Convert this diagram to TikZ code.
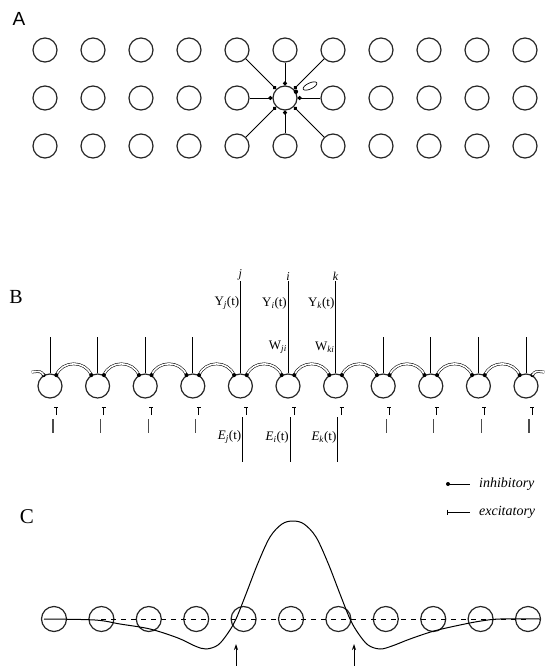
\documentclass[tikz,border=0pt]{standalone}
\usepackage{fontspec}
\setmainfont{Liberation Serif}
\newfontfamily\labsans{Liberation Sans}
\usetikzlibrary{arrows.meta}
\begin{document}
\begin{tikzpicture}[x=1pt,y=-1pt,
  cell/.style={circle, draw=black!85, line width=1.2pt, minimum size=24pt, inner sep=0pt},
  cellc/.style={circle, draw=black!85, line width=1.2pt, minimum size=25pt, inner sep=0pt},
  inhib/.style={line width=0.8pt, -{Circle[length=4pt]}},
  dbl/.style={double, double distance=1.6pt, line width=0.55pt},
  lbl/.style={font=\fontsize{13}{13}\selectfont, inner sep=1pt},
  panel/.style={font=\fontsize{20}{20}\selectfont, inner sep=0pt},
  leg/.style={font=\fontsize{14}{14}\selectfont\itshape, anchor=west, inner sep=0pt},
  vline/.style={line width=0.8pt},
]
\useasboundingbox (0,0) rectangle (544,666);

% ---------------- Panel A ----------------
\node[panel, font=\labsans\fontsize{19}{19}\selectfont] (labA) at (19,19) {A};
\foreach \r in {0,1,2}
  \foreach \c in {0,...,10}
    \node[cell] (a-\r-\c) at ({45+48*\c},{50+48*\r}) {};
\foreach \r/\c in {0/4,0/5,0/6,1/4,1/6,2/4,2/5,2/6}
  \draw[inhib] (a-\r-\c) -- (a-1-5);
\draw[line width=0.7pt, rotate around={25:(310,86)}] (310,86) ellipse [x radius=7.5, y radius=3];
\fill (a-1-5.30) circle (2.2);

% ---------------- Panel B ----------------
\node[panel] (labB) at (16,297) {B};
\foreach \c in {0,...,10}
  \node[cell] (b-\c) at ({50+47.6*\c},386) {};
% vertical output lines
\foreach \c in {0,1,2,3,7,8,9,10}
  \draw[vline] (b-\c.north) -- ++(0,-36);
\foreach \c/\n in {4/j,5/i,6/k} {
  \draw[vline] (b-\c.north) -- ++(0,-92) coordinate (top-\c);
  \node[font=\fontsize{12}{12}\selectfont\itshape, anchor=south, inner sep=1pt] (idx-\c) at (top-\c) {\n};
}
\node[lbl, anchor=east] (yj) at ({50+47.6*4},303) {Y\textsubscript{\textit{j}}(t)};
\node[lbl, anchor=east] (yi) at ({50+47.6*5},303) {Y\textsubscript{\textit{i}}(t)};
\node[lbl, anchor=east] (yk) at ({50+47.6*6},303) {Y\textsubscript{\textit{k}}(t)};
\node[lbl, anchor=east] (wji) at ({50+47.6*5},347) {W\textsubscript{\textit{ji}}};
\node[lbl, anchor=east] (wki) at ({50+47.6*6},347) {W\textsubscript{\textit{ki}}};
% lateral double arcs
\foreach \c [evaluate=\c as \d using int(\c+1)] in {0,...,9}
  \draw[dbl] (b-\c.60) .. controls +(6,-15) and +(-6,-15) .. (b-\d.120);
\foreach \c in {0,...,10} {
  \fill (b-\c.60) circle (2);
  \fill (b-\c.120) circle (2);
}
\draw[dbl] (b-0.120) .. controls +(-3,-4) .. +(-12,-3);
\draw[dbl] (b-10.60) .. controls +(3,-4) .. +(12,-3);
% inputs below
\foreach \c in {0,...,10} {
  \draw[line width=0.7pt] ([shift={(6,29)}]b-\c.center) -- ++(0,-8);
  \draw[line width=0.7pt] ([shift={(4,21)}]b-\c.center) -- ++(4,0);
}
\foreach \c in {0,1,2,3,7,8,9,10}
  \draw[line width=1.2pt, black!70] ([shift={(3,33)}]b-\c.center) -- ++(0,14);
\foreach \c in {4,5,6}
  \draw[vline] ([shift={(2,31)}]b-\c.center) -- ++(0,45);
\node[lbl, anchor=east] (ej) at ({52+47.6*4},437) {\textit{E}\textsubscript{\textit{j}}(t)};
\node[lbl, anchor=east] (ei) at ({52+47.6*5},437) {\textit{E}\textsubscript{\textit{i}}(t)};
\node[lbl, anchor=east] (ek) at ({52+47.6*6},437) {\textit{E}\textsubscript{\textit{k}}(t)};

% legend
\coordinate (li0) at (448,484);
\coordinate (li1) at (470,484);
\draw[line width=0.8pt] (li0) -- (li1);
\fill (li0) circle (2);
\node[leg] (linh) at (479,484) {inhibitory};
\coordinate (le0) at (447,512);
\coordinate (le1) at (470,512);
\draw[line width=0.8pt] (le0) -- (le1);
\draw[line width=0.6pt] (447,509.5) -- (447,514.5);
\node[leg] (lexc) at (479,512) {excitatory};

% ---------------- Panel C ----------------
\node[panel, font=\fontsize{21}{21}\selectfont] (labC) at (27,517) {C};
\foreach \c in {0,...,10}
  \node[cellc] (c-\c) at ({54+47.4*\c},619) {};
\draw[line width=0.9pt, dash pattern=on 5pt off 5pt] (c-1.center) -- (c-10.center);
\draw[line width=1pt] plot[smooth, tension=0.55] coordinates {
 (44,619) (95,620) (120,624) (150,629) (178,638) (195,646) (206,649) (218,645)
 (228,633) (236,619) (246,594) (258,563) (270,537) (282,524) (293,521) (304,524)
 (316,537) (328,563) (340,594) (350,619) (358,633) (368,645) (380,649) (392,646)
 (410,639) (434,631) (460,625) (481,621) (500,619) (540,619)};
\coordinate (aL0) at (236,670);
\coordinate (aL1) at (236,644);
\coordinate (aR0) at (354,670);
\coordinate (aR1) at (354,644);
\draw[line width=0.8pt, -{Stealth[length=6pt, width=4pt]}] (aL0) -- (aL1);
\draw[line width=0.8pt, -{Stealth[length=6pt, width=4pt]}] (aR0) -- (aR1);
\end{tikzpicture}
\end{document}
